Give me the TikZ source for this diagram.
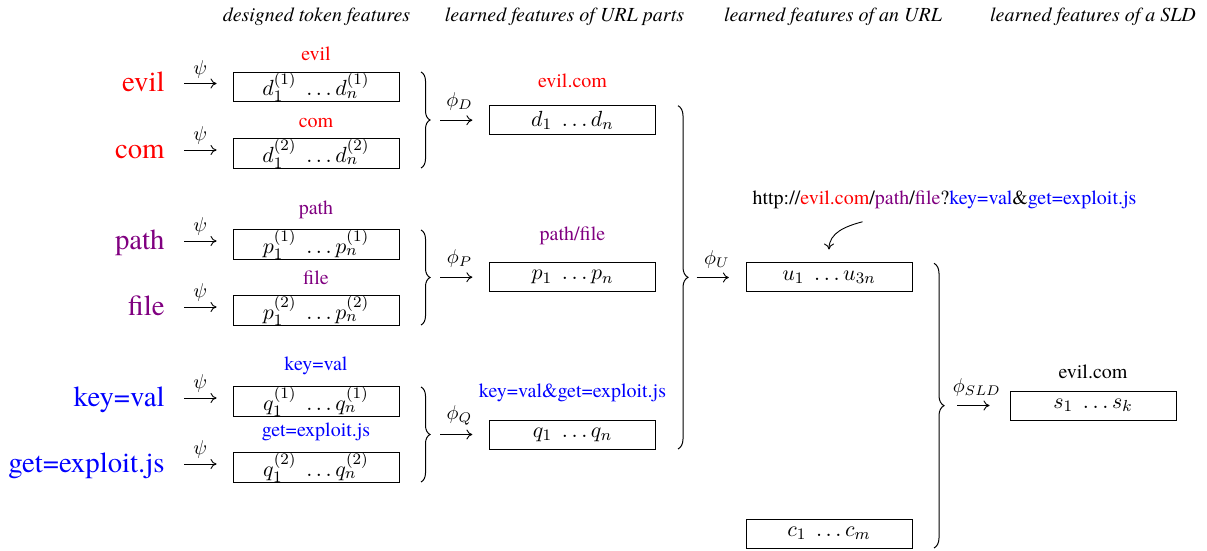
\documentclass[tikz,border=0pt]{standalone}
\usepackage[no-math]{fontspec}
\setmainfont{texgyretermes}[Extension=.otf, UprightFont=*-regular, ItalicFont=*-italic,
  BoldFont=*-bold, BoldItalicFont=*-bolditalic]
\usetikzlibrary{calc,decorations.pathreplacing,arrows.meta}
\definecolor{partpurple}{RGB}{128,0,128}

\begin{document}
\begin{tikzpicture}[x=0.5pt,y=-0.5pt,
  fbox/.style={draw, line width=0.5pt, minimum width=83pt, minimum height=14.5pt, inner sep=0pt,
    font=\fontsize{11}{13}\selectfont},
  tok/.style={anchor=base east, inner sep=0pt, font=\Large},
  head/.style={anchor=base, inner sep=0pt, font=\itshape},
  toplabel/.style={anchor=south, inner sep=0pt},
  map/.style={line width=0.45pt, -{To[length=3pt,width=5pt]}},
  brc/.style={decorate, decoration={brace, amplitude=#1}, line width=0.5pt},
  lbl/.style={midway, above=#1, inner sep=0pt},
]
\useasboundingbox (0,0) rectangle (1207,551);

% column headings
\node[head] (h1) at (316.5,22) {designed token features};
\node[head] (h2) at (564.5,22) {learned features of URL parts};
\node[head] (h3) at (833,22)   {learned features of an URL};
\node[head] (h4) at (1093,22)  {learned features of a SLD};

% designed token features
\node[fbox] (d1) at (316,87)    {$d_1^{(1)}\;\ldots d_n^{(1)}$};
\node[fbox] (d2) at (316,153.5) {$d_1^{(2)}\;\ldots d_n^{(2)}$};
\node[fbox] (p1) at (316,244.5) {$p_1^{(1)}\;\ldots p_n^{(1)}$};
\node[fbox] (p2) at (316,310.5) {$p_1^{(2)}\;\ldots p_n^{(2)}$};
\node[fbox] (q1) at (316,401.5) {$q_1^{(1)}\;\ldots q_n^{(1)}$};
\node[fbox] (q2) at (316,467.5) {$q_1^{(2)}\;\ldots q_n^{(2)}$};

\node[toplabel, text=red]        (cd1) at ([yshift=5.25pt]d1.north) {evil};
\node[toplabel, text=red]        (cd2) at ([yshift=5.25pt]d2.north) {com};
\node[toplabel, text=partpurple] (cp1) at ([yshift=5.25pt]p1.north) {path};
\node[toplabel, text=partpurple] (cp2) at ([yshift=5.25pt]p2.north) {file};
\node[toplabel, text=blue]       (cq1) at ([yshift=5.25pt]q1.north) {key=val};
\node[toplabel, text=blue]       (cq2) at ([yshift=5.25pt]q2.north) {get=exploit.js};

% tokens
\node[tok, text=red]        (tevil) at (165,92)    {evil};
\node[tok, text=red]        (tcom)  at (165,158.5) {com};
\node[tok, text=partpurple] (tpath) at (165,249.5) {path};
\node[tok, text=partpurple] (tfile) at (165,315.5) {file};
\node[tok, text=blue]       (tkey)  at (165,406.5) {key=val};
\node[tok, text=blue]       (tget)  at (165,472.5) {get=exploit.js};

\foreach \t/\b in {tevil/d1, tcom/d2, tpath/p1, tfile/p2, tkey/q1, tget/q2}
  \draw[map] ($(\t.east |- \b.west)+(9.5pt,1.75pt)$) -- ($(\b.west)+(-8pt,1.75pt)$)
    node[lbl=2.5pt] {$\psi$};

% learned features of URL parts
\node[fbox] (dd) at (572.5,120.2) {$d_1\;\ldots d_n$};
\node[fbox] (pp) at (572.5,277.2) {$p_1\;\ldots p_n$};
\node[fbox] (qq) at (572.5,434.5) {$q_1\;\ldots q_n$};

\node[toplabel, text=red]        (cdd) at ([yshift=8.5pt]dd.north) {evil.com};
\node[toplabel, text=partpurple] (cpp) at ([yshift=8.5pt]pp.north) {path/file};
\node[toplabel, text=blue]       (cqq) at ([yshift=8.5pt]qq.north) {key=val\&get=exploit.js};

\draw[brc=4.5pt] (421,72) -- (421,168);
\draw[brc=4.5pt] (421,230) -- (421,325);
\draw[brc=4.5pt] (421,387) -- (421,482);
\coordinate (bD) at (430,120.2);
\coordinate (bP) at (430,277.2);
\coordinate (bQ) at (430,434.5);

\draw[map, shorten <=5pt, shorten >=8.3pt] (bD) -- (dd.west) node[lbl=4.5pt] {$\phi_D$};
\draw[map, shorten <=5pt, shorten >=8.3pt] (bP) -- (pp.west) node[lbl=4.5pt] {$\phi_P$};
\draw[map, shorten <=5pt, shorten >=8.3pt] (bQ) -- (qq.west) node[lbl=4.5pt] {$\phi_Q$};

% learned features of an URL
\node[fbox] (u) at (829,277.5) {$u_1\;\ldots u_{3n}$};
\node[fbox] (c) at (829,533.5) {$c_1\;\ldots c_m$};

\node[anchor=base, inner sep=0pt] (url) at (944.5,205)
  {http://\textcolor{red}{evil.com}/\textcolor{partpurple}{path}/\textcolor{partpurple}{file}?\textcolor{blue}{key=val}\&\textcolor{blue}{get=exploit.js}};
\draw[map] ($(url.south)+(-41pt,-6pt)$) to[out=195,in=90] ($(u.north)+(0,6.5pt)$);

\draw[brc=5pt] (678,105.7) -- (678,449);
\coordinate (bU) at (688,277.5);
\draw[map, shorten <=4.3pt, shorten >=8.3pt] (bU) -- (u.west) node[lbl=4.5pt] {$\phi_U$};

% learned features of a SLD
\node[fbox] (s) at (1093,405.5) {$s_1\;\ldots s_k$};
\node[toplabel] (cs) at ([yshift=5.5pt]s.north) {evil.com};

\draw[brc=5pt] (934,263.3) -- (934,548);
\coordinate (bS) at (944,405.5);
\draw[map, shorten <=6.5pt, shorten >=10pt] (bS) -- (s.west) node[lbl=4.5pt] {$\phi_{SLD}$};
\end{tikzpicture}
\end{document}
